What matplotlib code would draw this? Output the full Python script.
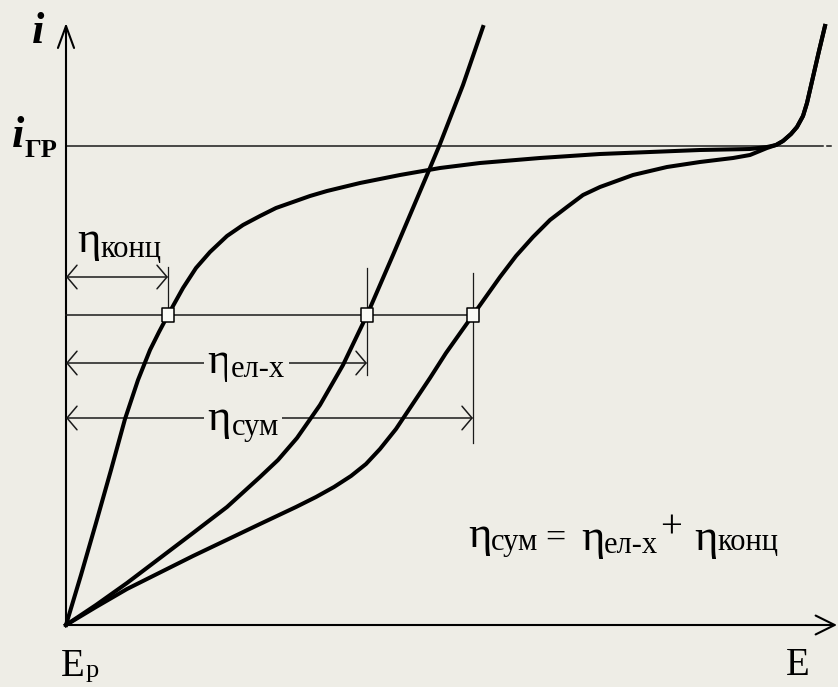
import numpy as np
import matplotlib.pyplot as plt
from matplotlib.path import Path

# polarization curves, E vs i (arbitrary units)
E_conc = [0, 0.15, 0.30, 0.45, 0.59, 0.72, 0.84, 0.93, 1.02, 1.17, 1.30, 1.44, 1.61,
          1.77, 1.94, 2.10, 2.27, 2.44, 2.61, 2.94, 3.34, 3.74, 4.14, 4.74, 5.34,
          5.84, 6.34, 6.84, 7.01, 7.10, 7.17, 7.25, 7.31, 7.37, 7.41, 7.47, 7.53, 7.59]
i_conc = [0, 0.50, 1.02, 1.55, 2.06, 2.45, 2.75, 2.93, 3.10, 3.37, 3.57, 3.73, 3.89,
          4.00, 4.09, 4.17, 4.23, 4.29, 4.34, 4.42, 4.50, 4.57, 4.62, 4.67, 4.71,
          4.73, 4.75, 4.76, 4.78, 4.80, 4.84, 4.91, 4.98, 5.09, 5.22, 5.48, 5.74, 5.99]

E_elch = [0, 0.30, 0.61, 1.27, 1.61, 1.94, 2.12, 2.31, 2.54, 2.77, 3.01, 3.27, 3.61,
          3.74, 3.97, 4.17]
i_elch = [0, 0.20, 0.42, 0.92, 1.18, 1.48, 1.65, 1.87, 2.20, 2.60, 3.10, 3.70, 4.50,
          4.81, 5.40, 5.98]

E_sum = [0, 0.30, 0.61, 1.27, 1.94, 2.30, 2.50, 2.68, 2.85, 3.00, 3.14, 3.30, 3.46,
         3.64, 3.80, 3.97, 4.07, 4.34, 4.50, 4.67, 4.84, 5.01, 5.17, 5.34, 5.67,
         6.01, 6.34, 6.67, 6.84, 7.01, 7.10, 7.17, 7.25, 7.31, 7.37, 7.41, 7.47,
         7.53, 7.59]
i_sum = [0, 0.18, 0.36, 0.69, 1.01, 1.18, 1.28, 1.38, 1.49, 1.61, 1.76, 1.96, 2.20,
         2.47, 2.72, 2.96, 3.10, 3.48, 3.69, 3.88, 4.05, 4.18, 4.30, 4.38, 4.50,
         4.58, 4.63, 4.67, 4.70, 4.77, 4.80, 4.84, 4.91, 4.98, 5.09, 5.22, 5.48,
         5.74, 5.99]

I_LIM = 4.79      # limiting current i_ГР
I_LEVEL = 3.10    # current at which overpotentials are compared

BG = '#eeede6'
FONT = 'Liberation Serif'

fig = plt.figure(figsize=(8.38, 6.87), dpi=100)
fig.patch.set_facecolor(BG)
ax = fig.add_axes([0, 0, 1, 1])
ax.set_facecolor(BG)
ax.set_xlim(-0.66, 7.72)
ax.set_ylim(-0.62, 6.25)
ax.axis('off')

# axes with open arrow heads
ax.annotate('', xy=(0, 6.02), xytext=(0, 0),
            arrowprops=dict(arrowstyle='->,head_length=15.8,head_width=5.8',
                            mutation_scale=1, lw=1.5, color='black',
                            shrinkA=0, shrinkB=0))
ax.annotate('', xy=(7.71, 0), xytext=(0, 0),
            arrowprops=dict(arrowstyle='->,head_length=13.7,head_width=6.8',
                            mutation_scale=1, lw=1.5, color='black',
                            shrinkA=0, shrinkB=0))

# limiting current line
ax.plot([0, 7.57], [I_LIM, I_LIM], color='#1a1a1a', lw=1.1)
ax.plot([7.61, 7.65], [I_LIM, I_LIM], color='#1a1a1a', lw=1.1)

# curves
for E, i in [(E_conc, i_conc), (E_elch, i_elch), (E_sum, i_sum)]:
    ax.plot(E, i, color='black', lw=2.9, solid_joinstyle='round', zorder=4)

# points at the comparison current
e_conc = np.interp(I_LEVEL, i_conc, E_conc)
e_elch = np.interp(I_LEVEL, i_elch, E_elch)
e_sum = np.interp(I_LEVEL, i_sum, E_sum)

ax.plot([0, e_sum + 0.03], [I_LEVEL, I_LEVEL], color='#1a1a1a', lw=1.1, zorder=3)

ax.plot([e_conc, e_conc], [I_LEVEL, 3.58], color='#1a1a1a', lw=0.9, zorder=3)
ax.plot([e_elch, e_elch], [2.50, 3.57], color='#1a1a1a', lw=0.9, zorder=3)
ax.plot([e_sum, e_sum], [1.82, 3.52], color='#1a1a1a', lw=0.9, zorder=3)

box = Path([(-0.77, -1), (0.77, -1), (0.77, 1), (-0.77, 1), (-0.77, -1)])
ax.plot([e_conc, e_elch, e_sum], [I_LEVEL] * 3, linestyle='none', marker=box,
        markersize=10.5, markerfacecolor='#fbfbf7', markeredgecolor='black',
        markeredgewidth=1.1, zorder=6)

# dimension arrows
dim = dict(arrowstyle='<->,head_length=7.2,head_width=8.5', mutation_scale=1,
           lw=1.1, color='#1a1a1a', shrinkA=0, shrinkB=0)
ax.annotate('', xy=(e_conc, 3.48), xytext=(0, 3.48), arrowprops=dim, zorder=3)
ax.annotate('', xy=(e_elch, 2.62), xytext=(0, 2.62), arrowprops=dim, zorder=3)
ax.annotate('', xy=(e_sum, 2.07), xytext=(0, 2.07), arrowprops=dim, zorder=3)


def txt(x, y, s, size, pad=None, **kw):
    t = ax.text(x, y, s, fontsize=size, family=FONT, ha='left', va='baseline',
                zorder=5, **kw)
    if pad is not None:
        t.set_bbox(dict(facecolor=BG, edgecolor='none', pad=pad))
    return t


ETA = 32
SUB = 22

# overpotential labels
txt(0.11, 3.73, 'η', ETA)
txt(0.34, 3.68, 'конц', SUB)

txt(1.41, 2.52, 'η', ETA, pad=2)
txt(1.65, 2.48, 'ел-х', SUB, pad=3)

txt(1.41, 1.95, 'η', ETA, pad=2)
txt(1.66, 1.90, 'сум', SUB, pad=2)

# relation between overpotentials
txt(4.02, 0.78, 'η', ETA)
txt(4.25, 0.75, 'сум', SUB)
txt(4.79, 0.77, '=', 26)
txt(5.15, 0.75, 'η', ETA)
txt(5.38, 0.72, 'ел-х', SUB)
txt(5.94, 0.87, '+', 28)
txt(6.28, 0.75, 'η', ETA)
txt(6.51, 0.75, 'конц', SUB)

# axis labels
txt(-0.34, 5.82, 'i', 32, fontweight='bold', fontstyle='italic')
txt(-0.54, 4.78, 'i', 32, fontweight='bold', fontstyle='italic')
txt(-0.41, 4.68, 'ГР', 19, fontweight='bold')
txt(-0.05, -0.51, 'E', 28)
txt(0.20, -0.52, 'р', 19)
txt(7.20, -0.50, 'E', 28)

fig.savefig('out.png', dpi=100, facecolor=BG)
